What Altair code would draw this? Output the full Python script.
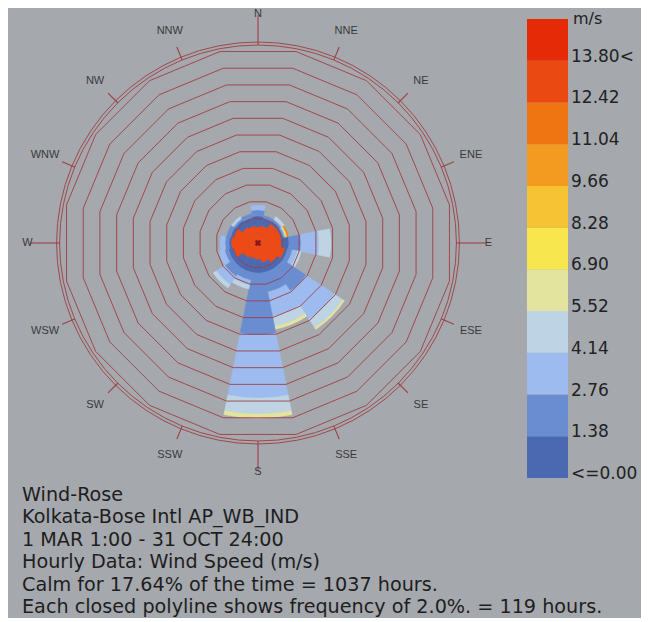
import math
import altair as alt
import pandas as pd

# ---------------- data ----------------
DIRECTIONS = ["N", "NNE", "NE", "ENE", "E", "ESE", "SE", "SSE",
              "S", "SSW", "SW", "WSW", "W", "WNW", "NW", "NNW"]
SPEED_LABELS = ["<=0.00", "1.38", "2.76", "4.14", "5.52", "6.90",
                "8.28", "9.66", "11.04", "12.42", "13.80<"]
SPEED_COLORS = ["#4a69b0", "#6a8dd2", "#9dbbee", "#bed4e4", "#e3e49e", "#f8e64f",
                "#f6c334", "#f29b20", "#ee7512", "#ea4a12", "#e52a08"]

# frequency (%) per direction for each wind-speed bin
FREQ_0_00 = [2.30, 2.06, 2.18, 2.06, 2.78, 2.66, 2.66, 2.66, 2.66, 2.66, 2.66, 2.66, 2.54, 2.42, 2.30, 2.18]
FREQ_1_38 = [0.72, 0.36, 0.24, 0.24, 1.44, 0.60, 3.35, 2.40, 7.43, 0.96, 1.20, 0.48, 0.48, 0.48, 0.24, 0.48]
FREQ_2_76 = [0.60, 0.00, 0.12, 0.12, 2.16, 0.60, 4.07, 2.99, 7.54, 0.60, 1.20, 0.72, 0.60, 0.00, 0.12, 0.00]
FREQ_4_14 = [0.00, 0.00, 0.36, 0.06, 1.44, 0.48, 1.20, 1.20, 1.92, 0.48, 0.48, 0.00, 0.00, 0.00, 0.24, 0.00]
FREQ_5_52 = [0.00, 0.00, 0.00, 0.06, 0.00, 0.00, 0.24, 0.36, 0.48, 0.00, 0.00, 0.00, 0.00, 0.00, 0.00, 0.00]
FREQ_6_90 = [0.00, 0.00, 0.00, 0.06, 0.00, 0.00, 0.00, 0.00, 0.00, 0.00, 0.00, 0.00, 0.00, 0.00, 0.00, 0.00]
FREQ_8_28 = [0.00, 0.00, 0.00, 0.06, 0.00, 0.00, 0.00, 0.00, 0.00, 0.00, 0.00, 0.00, 0.00, 0.00, 0.00, 0.00]
FREQ_9_66 = [0.00, 0.00, 0.00, 0.06, 0.00, 0.00, 0.00, 0.00, 0.00, 0.00, 0.00, 0.00, 0.00, 0.00, 0.00, 0.00]
FREQ_11_04 = [0.00, 0.00, 0.00, 0.06, 0.00, 0.00, 0.00, 0.00, 0.00, 0.00, 0.00, 0.00, 0.00, 0.00, 0.00, 0.00]
FREQ_12_42 = [0.0] * 16
FREQ_13_80 = [0.0] * 16
FREQ_BINS = [FREQ_0_00, FREQ_1_38, FREQ_2_76, FREQ_4_14, FREQ_5_52, FREQ_6_90,
             FREQ_8_28, FREQ_9_66, FREQ_11_04, FREQ_12_42, FREQ_13_80]

CALM_OFFSET = 0.93          # inner calm radius (in % units)
CALM_SHAPE = [1.92, 2.07, 2.71, 2.75, 2.75, 3.23, 2.75, 2.34,
              1.92, 1.84, 2.10, 2.95, 3.15, 2.92, 2.25, 2.04]   # red centre outline
RING_LEVELS = [2, 4, 6, 8, 10, 12, 14, 16, 18, 20, 22]
OUTER_CIRCLES = [23.71, 24.07]

TEXT_LINES = [
    "Wind-Rose",
    "Kolkata-Bose Intl AP_WB_IND",
    "1 MAR 1:00 - 31 OCT 24:00",
    "Hourly Data: Wind Speed (m/s)",
    "Calm for 17.64% of the time = 1037 hours.",
    "Each closed polyline shows frequency of 2.0%. = 119 hours.",
]

# ---------------- layout ----------------
W, H = 633, 610
K = 8.35                 # pixels per 1 %
CX, CY = 250, 235
BG = "#a5a8ad"
RING_COLOR = "#9e3f44"


def xs():
    return alt.Scale(domain=[-CX / K, (W - CX) / K], range=[0, W])


def ys():
    return alt.Scale(domain=[-(H - CY) / K, CY / K], range=[H, 0])


theta_scale = alt.Scale(type="linear", domain=[0, 360], range=[0, 2 * math.pi])
r_scale = alt.Scale(type="linear", domain=[0, 30], range=[0, 30 * K])
color_scale = alt.Scale(domain=SPEED_LABELS, range=SPEED_COLORS)

# wedges
rows = []
for i, d in enumerate(DIRECTIONS):
    cum = CALM_OFFSET
    for lab, arr in zip(SPEED_LABELS, FREQ_BINS):
        v = arr[i]
        if v > 0:
            rows.append(dict(dir=d, t0=22.5 * i - 11.25, t1=22.5 * i + 11.25,
                             r0=cum, r1=cum + v, speed=lab))
            cum += v
wedge_df = pd.DataFrame(rows)

wedges = alt.Chart(wedge_df).mark_arc(strokeWidth=0.4).encode(
    theta=alt.Theta("t0:Q", scale=theta_scale, stack=None),
    theta2="t1:Q",
    radius=alt.Radius("r1:Q", scale=r_scale),
    radius2="r0:Q",
    color=alt.Color("speed:N", scale=color_scale, legend=None),
    stroke=alt.Stroke("speed:N", scale=color_scale, legend=None),
    x=alt.value(CX), y=alt.value(CY),
)

# polygon rings
ring_rows = []
for lv in RING_LEVELS:
    for k in range(17):
        ring_rows.append(dict(level=lv, k=k, ang=11.25 + 22.5 * k))
ring_df = pd.DataFrame(ring_rows)
rings = alt.Chart(ring_df).transform_calculate(
    rv=f"(datum.level + {CALM_OFFSET}) / cos(PI / 16)"
).transform_calculate(
    px="datum.rv * sin(datum.ang * PI / 180)",
    py="datum.rv * cos(datum.ang * PI / 180)",
).mark_line(color=RING_COLOR, strokeWidth=1.0, opacity=0.9).encode(
    x=alt.X("px:Q", scale=xs(), axis=None),
    y=alt.Y("py:Q", scale=ys(), axis=None),
    detail="level:N",
    order="k:Q",
)

# red centre
calm_df = pd.DataFrame(dict(dir=DIRECTIONS, r=CALM_SHAPE,
                            t0=[22.5 * i - 11.25 for i in range(16)],
                            t1=[22.5 * i + 11.25 for i in range(16)]))
calm = alt.Chart(calm_df).mark_arc(color="#ee4a16", stroke="#ee4a16", strokeWidth=0.5).encode(
    theta=alt.Theta("t0:Q", scale=theta_scale, stack=None),
    theta2="t1:Q",
    radius=alt.Radius("r:Q", scale=r_scale),
    x=alt.value(CX), y=alt.value(CY),
)
marker = alt.Chart(pd.DataFrame({"m": [0]})).mark_point(
    shape="cross", angle=45, filled=True, size=45, color="#8a1a1a", opacity=1
).encode(x=alt.value(CX), y=alt.value(CY))

# outer compass circles
circ_df = pd.DataFrame(dict(r=OUTER_CIRCLES, t0=[0, 0], t1=[360, 360]))
circles = alt.Chart(circ_df).mark_arc(fillOpacity=0, stroke=RING_COLOR, strokeWidth=1.0, opacity=0.9).encode(
    theta=alt.Theta("t0:Q", scale=theta_scale, stack=None),
    theta2="t1:Q",
    radius=alt.Radius("r:Q", scale=r_scale),
    x=alt.value(CX), y=alt.value(CY),
)

# ticks and labels
dir_df = pd.DataFrame(dict(dir=DIRECTIONS, ang=[22.5 * i for i in range(16)],
                           major=[1 if i % 4 == 0 else 0 for i in range(16)]))
ticks = alt.Chart(dir_df).transform_calculate(
    rin="23.71", rout="datum.major ? 27.3 : 25.4"
).transform_calculate(
    x1="datum.rin * sin(datum.ang * PI / 180)",
    y1="datum.rin * cos(datum.ang * PI / 180)",
    x2="datum.rout * sin(datum.ang * PI / 180)",
    y2="datum.rout * cos(datum.ang * PI / 180)",
).mark_rule(color=RING_COLOR, strokeWidth=1.1).encode(
    x=alt.X("x1:Q", scale=xs(), axis=None),
    y=alt.Y("y1:Q", scale=ys(), axis=None),
    x2="x2:Q", y2="y2:Q",
)
labels = alt.Chart(dir_df).transform_calculate(
    lx="27.6 * sin(datum.ang * PI / 180)",
    ly="27.45 * cos(datum.ang * PI / 180)",
).mark_text(font="Liberation Sans", fontSize=11, color="#3a3a3a",
            align="center", baseline="middle").encode(
    x=alt.X("lx:Q", scale=xs(), axis=None),
    y=alt.Y("ly:Q", scale=ys(), axis=None),
    text="dir:N",
)

# legend
legend_order = list(reversed(SPEED_LABELS))
leg_df = pd.DataFrame(dict(speed=SPEED_LABELS))
leg_scale = alt.Scale(type="band", domain=legend_order, range=[11, 470],
                      paddingInner=0, paddingOuter=0)
leg_rects = alt.Chart(leg_df).mark_rect().encode(
    y=alt.Y("speed:N", scale=leg_scale, axis=None),
    x=alt.value(519), x2=alt.value(560),
    color=alt.Color("speed:N", scale=color_scale, legend=None),
)
leg_text = alt.Chart(leg_df).mark_text(
    font="DejaVu Sans", fontSize=17, color="#222", align="left", baseline="middle", dy=-4
).encode(
    y=alt.Y("speed:N", scale=leg_scale, axis=None, bandPosition=1),
    x=alt.value(563),
    text="speed:N",
)
unit_text = alt.Chart(pd.DataFrame({"u": ["m/s"]})).mark_text(
    font="DejaVu Sans", fontSize=16, color="#222", align="left", baseline="middle"
).encode(x=alt.value(565), y=alt.value(11), text="u:N")

# caption block
txt_df = pd.DataFrame(dict(i=list(range(len(TEXT_LINES))), line=TEXT_LINES))
caption = alt.Chart(txt_df).mark_text(
    font="DejaVu Sans", fontSize=19.2, color="#1e1e1e", align="left", baseline="middle"
).encode(
    x=alt.value(14),
    y=alt.Y("i:Q", scale=alt.Scale(domain=[0, 5], range=[487, 599]), axis=None),
    text="line:N",
)

chart = alt.layer(
    wedges, rings, calm, marker, circles, ticks, labels,
    leg_rects, leg_text, unit_text, caption
).resolve_scale(
    x="independent", y="independent"
).properties(
    width=W, height=H, background=BG, padding=0,
    autosize=alt.AutoSizeParams(type="none"),
).configure_view(stroke=None)

chart.save("out.html", embed_options={"renderer": "svg", "actions": False})
